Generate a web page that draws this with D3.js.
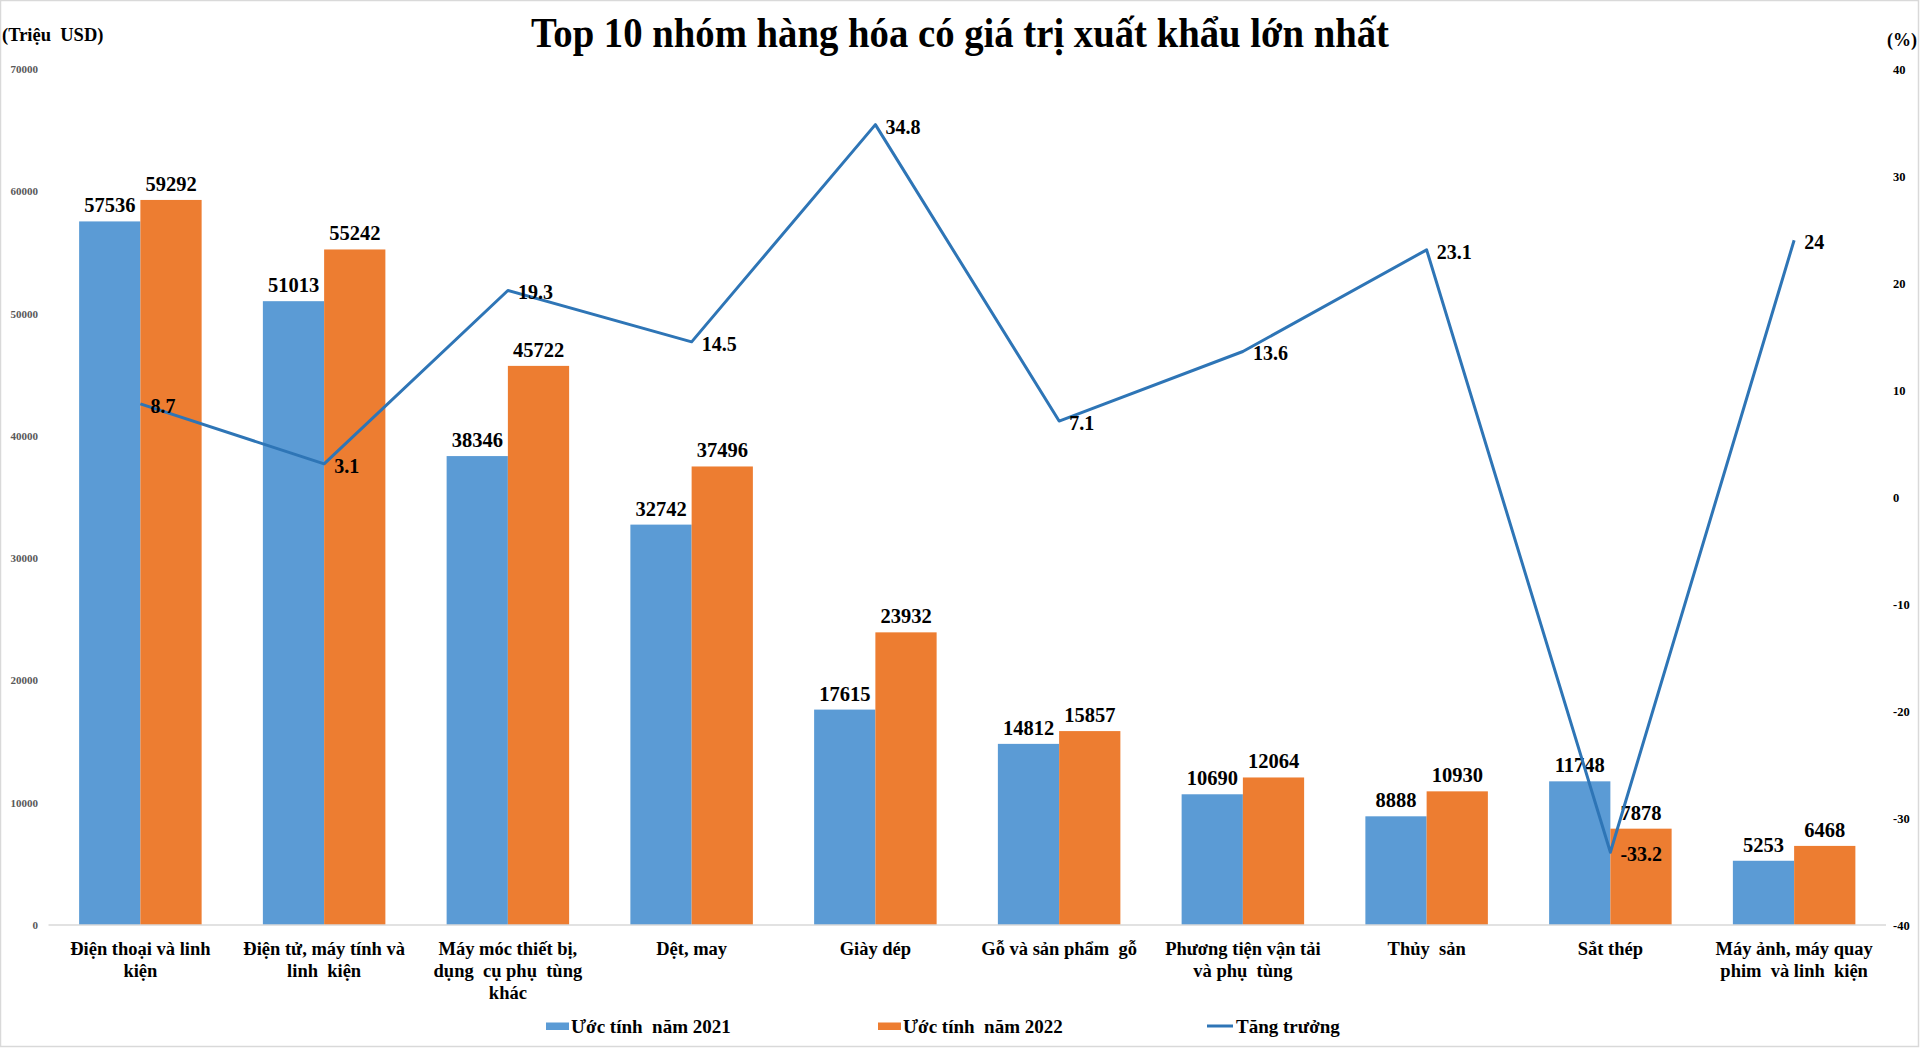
<!DOCTYPE html>
<html><head><meta charset="utf-8">
<script src="https://cdn.jsdelivr.net/npm/d3@7"></script>
<style>
html,body{margin:0;padding:0;background:#fff;}
svg{display:block;font-family:"Liberation Serif","Times New Roman",serif;font-weight:bold;}
</style></head><body>
<svg id="chart" width="1920" height="1048"></svg>
<script>
const categories = [
  "Điện thoại và linh kiện",
  "Điện tử, máy tính và linh kiện",
  "Máy móc thiết bị, dụng cụ phụ tùng khác",
  "Dệt, may",
  "Giày dép",
  "Gỗ và sản phẩm gỗ",
  "Phương tiện vận tải và phụ tùng",
  "Thủy sản",
  "Sắt thép",
  "Máy ảnh, máy quay phim và linh kiện"
];
const categoryLines = [
  ["Điện thoại và linh", "kiện"],
  ["Điện tử, máy tính và", "linh  kiện"],
  ["Máy móc thiết bị,", "dụng  cụ phụ  tùng", "khác"],
  ["Dệt, may"],
  ["Giày dép"],
  ["Gỗ và sản phẩm  gỗ"],
  ["Phương tiện vận tải", "và phụ  tùng"],
  ["Thủy  sản"],
  ["Sắt thép"],
  ["Máy ảnh, máy quay", "phim  và linh  kiện"]
];
const values2021 = [57536, 51013, 38346, 32742, 17615, 14812, 10690, 8888, 11748, 5253];
const values2022 = [59292, 55242, 45722, 37496, 23932, 15857, 12064, 10930, 7878, 6468];
const growth = [8.7, 3.1, 19.3, 14.5, 34.8, 7.1, 13.6, 23.1, -33.2, 24];
const seriesNames = ["Ước tính  năm 2021", "Ước tính  năm 2022", "Tăng trưởng"];
const leftTicks = [0, 10000, 20000, 30000, 40000, 50000, 60000, 70000];
const rightTicks = [-40, -30, -20, -10, 0, 10, 20, 30, 40];
const titleText = "Top 10 nhóm hàng hóa có giá trị xuất khẩu lớn nhất";
const leftUnit = "(Triệu  USD)";
const rightUnit = "(%)";

const colors = { y2021: "#5B9BD5", y2022: "#ED7D31", line: "#2E75B6" };

const svg = d3.select("#chart");

// border
svg.append("rect").attr("x", 0.5).attr("y", 0.5).attr("width", 1918).attr("height", 1046)
  .attr("fill", "none").attr("stroke", "#d9d9d9").attr("stroke-width", 1.5);

const x = d3.scaleBand().domain(categories).range([48.5, 1886]).paddingInner(1/3).paddingOuter(1/6);
const xi = d3.scaleBand().domain(["2021", "2022"]).range([0, x.bandwidth()]);
const y = d3.scaleLinear().domain([0, 70000]).range([925, 69]);
const y2 = d3.scaleLinear().domain([-40, 40]).range([925, 69]);

// title
svg.append("text").attr("x", 960).attr("y", 47).attr("text-anchor", "middle")
  .attr("font-size", 42).attr("textLength", 858).attr("lengthAdjust", "spacingAndGlyphs")
  .attr("fill", "#000").text(titleText);

svg.append("text").attr("x", 2).attr("y", 41).attr("font-size", 18.5).attr("fill", "#000")
  .attr("xml:space", "preserve").style("white-space", "pre").text(leftUnit);
svg.append("text").attr("x", 1917).attr("y", 46).attr("text-anchor", "end").attr("font-size", 18).attr("fill", "#000").text(rightUnit);

// left axis
const gl = svg.append("g").attr("transform", "translate(41,0)")
  .call(d3.axisLeft(y).tickValues(leftTicks).tickSize(0).tickPadding(3).tickFormat(d => String(d)));
gl.select(".domain").remove();
gl.selectAll("text").attr("font-size", 11).attr("fill", "#595959")
  .attr("font-family", '"Liberation Serif","Times New Roman",serif').attr("font-weight", "bold");

// right axis
const gr = svg.append("g").attr("transform", "translate(1890,0)")
  .call(d3.axisRight(y2).tickValues(rightTicks).tickSize(0).tickPadding(3).tickFormat(d => String(d)));
gr.select(".domain").remove();
gr.selectAll("text").attr("font-size", 12.5).attr("fill", "#000")
  .attr("font-family", '"Liberation Serif","Times New Roman",serif').attr("font-weight", "bold");

// bars
const groups = svg.append("g").selectAll("g").data(categories).join("g")
  .attr("transform", d => `translate(${x(d)},0)`);
groups.append("rect").attr("x", xi("2021")).attr("width", xi.bandwidth())
  .attr("y", (d, i) => y(values2021[i])).attr("height", (d, i) => y(0) - y(values2021[i]))
  .attr("fill", colors.y2021);
groups.append("rect").attr("x", xi("2022")).attr("width", xi.bandwidth())
  .attr("y", (d, i) => y(values2022[i])).attr("height", (d, i) => y(0) - y(values2022[i]))
  .attr("fill", colors.y2022);

// baseline
svg.append("line").attr("x1", 48.5).attr("x2", 1886).attr("y1", y(0)).attr("y2", y(0))
  .attr("stroke", "#d9d9d9").attr("stroke-width", 1.5);

// bar labels
groups.append("text").attr("x", xi("2021") + xi.bandwidth() / 2).attr("y", (d, i) => y(values2021[i]) - 9)
  .attr("text-anchor", "middle").attr("font-size", 20.5).attr("fill", "#000").text((d, i) => values2021[i]);
groups.append("text").attr("x", xi("2022") + xi.bandwidth() / 2).attr("y", (d, i) => y(values2022[i]) - 9)
  .attr("text-anchor", "middle").attr("font-size", 20.5).attr("fill", "#000").text((d, i) => values2022[i]);

// line
const cx = d => x(d) + x.bandwidth() / 2;
const line = d3.line().x((d, i) => cx(categories[i])).y(d => y2(d));
svg.append("path").datum(growth).attr("d", line).attr("fill", "none")
  .attr("stroke", colors.line).attr("stroke-width", 3).attr("stroke-linejoin", "round");
svg.append("g").selectAll("text").data(growth).join("text")
  .attr("x", (d, i) => cx(categories[i]) + 10).attr("y", d => y2(d) + 9)
  .attr("font-size", 20).attr("fill", "#000").text(d => String(d));

// category labels
const cl = svg.append("g").selectAll("text").data(categories).join("text")
  .attr("text-anchor", "middle").attr("font-size", 18.5).attr("fill", "#000")
  .attr("transform", d => `translate(${cx(d)},955)`);
cl.selectAll("tspan").data((d, i) => categoryLines[i]).join("tspan")
  .attr("x", 0).attr("y", (d, j) => j * 22).attr("xml:space", "preserve").style("white-space", "pre").text(d => d);

// legend
const legend = svg.append("g");
const legendItems = [
  { name: seriesNames[0], type: "rect", color: colors.y2021, x: 546 },
  { name: seriesNames[1], type: "rect", color: colors.y2022, x: 878 },
  { name: seriesNames[2], type: "line", color: colors.line, x: 1207 }
];
legendItems.forEach(it => {
  if (it.type === "rect") {
    legend.append("rect").attr("x", it.x).attr("y", 1022.5).attr("width", 23).attr("height", 7.5).attr("fill", it.color);
  } else {
    legend.append("line").attr("x1", it.x).attr("x2", it.x + 26).attr("y1", 1026).attr("y2", 1026)
      .attr("stroke", it.color).attr("stroke-width", 3);
  }
  legend.append("text").attr("x", it.x + (it.type === "rect" ? 25 : 29)).attr("y", 1033)
    .attr("font-size", 19).attr("fill", "#000").attr("xml:space", "preserve").style("white-space", "pre").text(it.name);
});
</script>
</body></html>
